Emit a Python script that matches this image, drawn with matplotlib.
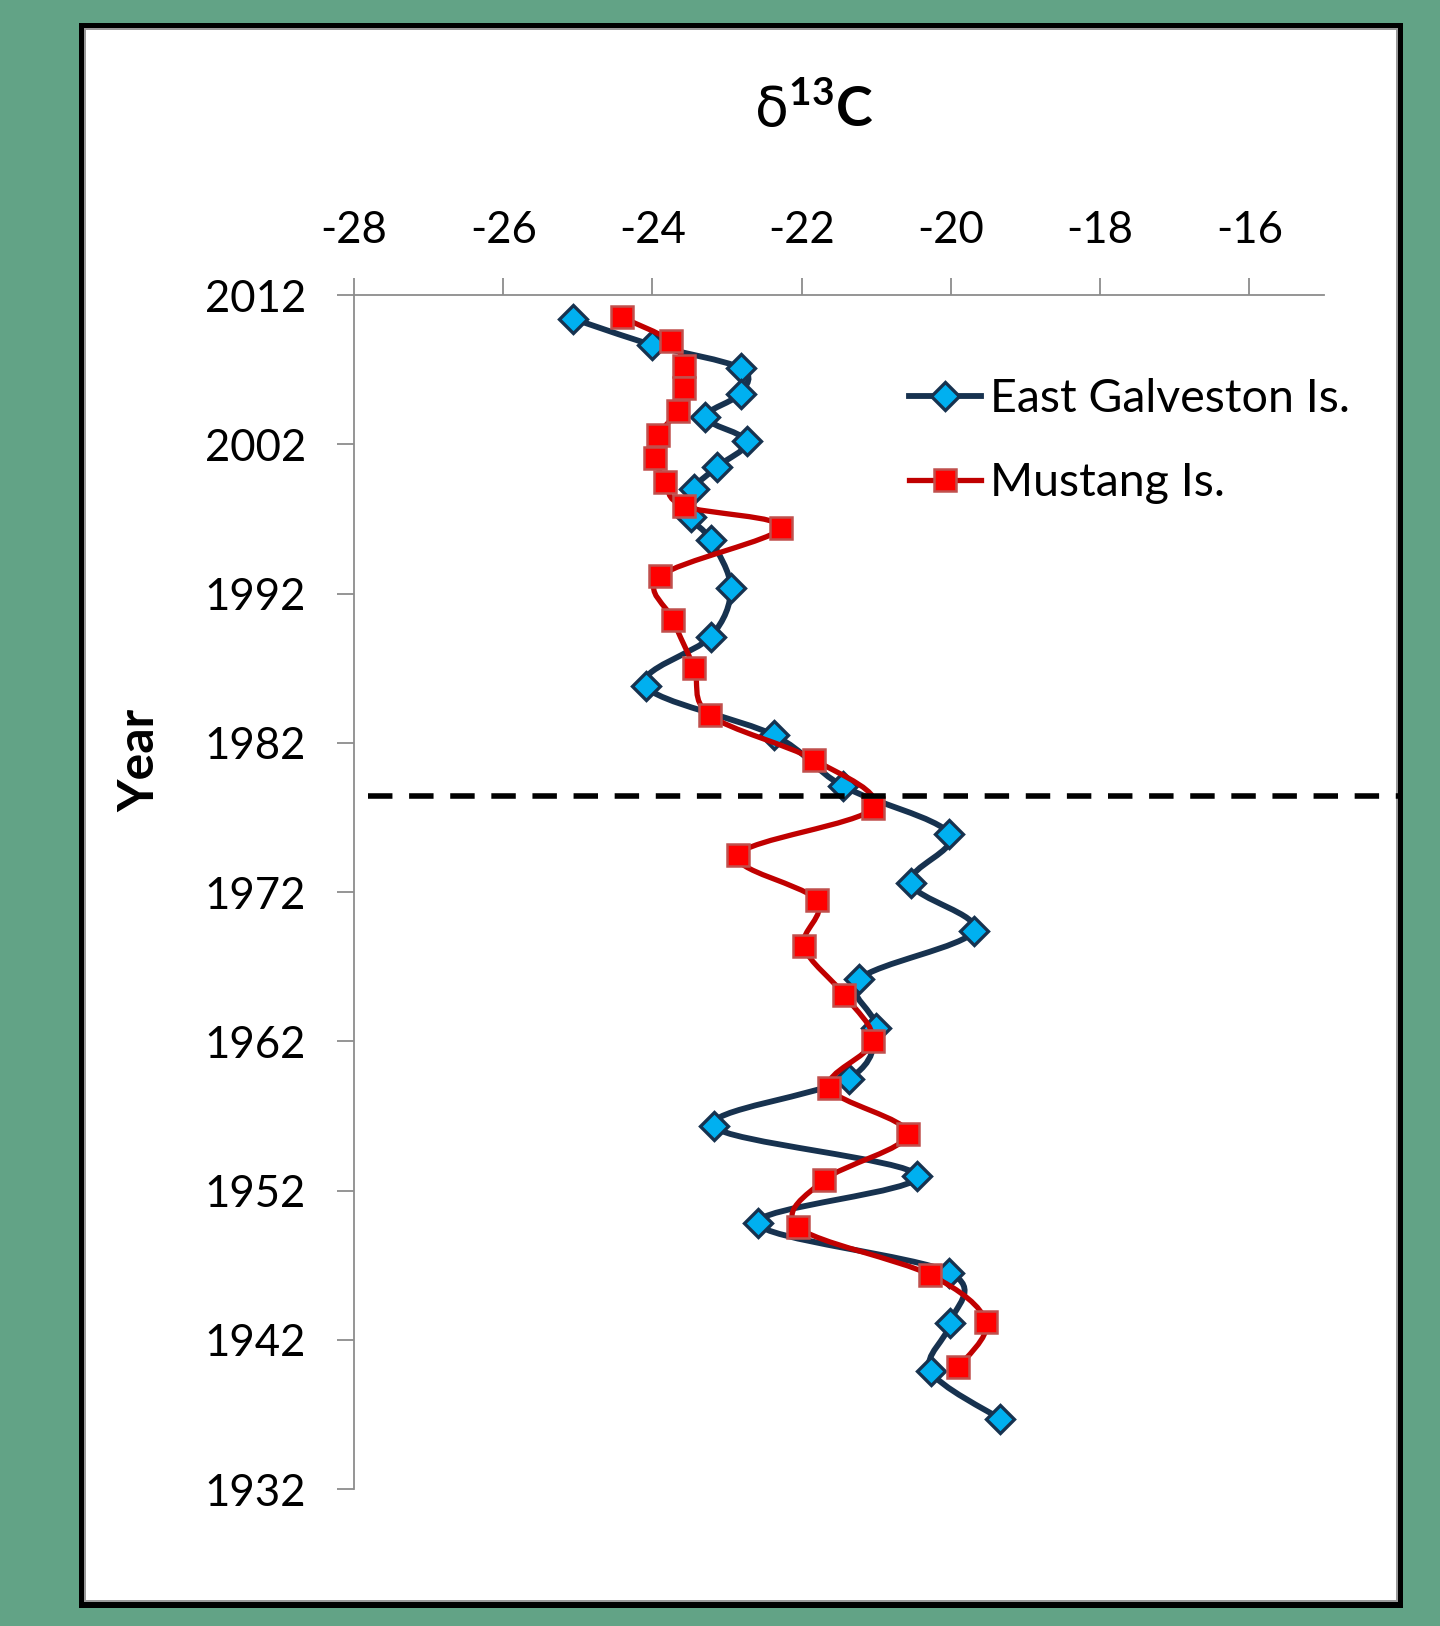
import numpy as np
import matplotlib
matplotlib.use("Agg")
import matplotlib.pyplot as plt
from matplotlib.path import Path
from matplotlib.patches import PathPatch, Rectangle
from matplotlib.lines import Line2D

plt.rcParams['font.family'] = ['Lato', 'DejaVu Sans']
plt.rcParams['mathtext.fontset'] = 'custom'
plt.rcParams['mathtext.rm'] = 'DejaVu Sans'
plt.rcParams['mathtext.bf'] = 'Lato:bold'
plt.rcParams['axes.unicode_minus'] = False

# East Galveston Is. (d13C, year)
eg_d13c = [-25.06, -24.00, -22.82, -22.82, -23.29, -22.73, -23.13, -23.45, -23.49, -23.22,
           -22.95, -23.22, -24.09, -22.37, -21.45, -20.02, -20.54, -19.69, -21.23, -21.01,
           -21.37, -23.18, -20.45, -22.59, -20.02, -20.01, -20.27, -19.34]
eg_year = [2010.4, 2008.65, 2007.1, 2005.4, 2003.8, 2002.2, 2000.5, 1999.0, 1997.15, 1995.6,
           1992.35, 1989.1, 1985.8, 1982.5, 1979.1, 1975.9, 1972.6, 1969.4, 1966.15, 1962.9,
           1959.5, 1956.3, 1953.0, 1949.8, 1946.5, 1943.1, 1939.9, 1936.7]

# Mustang Is.
mi_d13c = [-24.41, -23.75, -23.58, -23.58, -23.66, -23.92, -23.96, -23.83, -23.58, -22.28,
           -23.90, -23.72, -23.44, -23.23, -21.83, -21.05, -22.85, -21.80, -21.97, -21.43,
           -21.05, -21.63, -20.58, -21.70, -22.05, -20.28, -19.53, -19.90]
mi_year = [2010.5, 2008.9, 2007.25, 2005.75, 2004.25, 2002.6, 2001.05, 1999.5, 1997.85, 1996.4,
           1993.15, 1990.2, 1987.0, 1983.85, 1980.85, 1977.6, 1974.5, 1971.45, 1968.35, 1965.1,
           1962.0, 1958.9, 1955.8, 1952.7, 1949.55, 1946.35, 1943.2, 1940.15]

boundary_year = 1978.4
xticks = [-28, -26, -24, -22, -20, -18, -16]
yticks = [1932, 1942, 1952, 1962, 1972, 1982, 1992, 2002, 2012]

navy = '#17324f'
cyan = '#00b0f0'
red_line = '#c00000'
red_face = '#ff0000'
red_edge = '#c0504d'


def smooth_path(x, y):
    # Excel-style smoothed line: cubic Bezier through the points
    pts = np.column_stack([x, y])
    n = len(pts)
    verts = [pts[0]]
    codes = [Path.MOVETO]
    for i in range(n - 1):
        p0 = pts[i - 1] if i > 0 else pts[i]
        p1, p2 = pts[i], pts[i + 1]
        p3 = pts[i + 2] if i + 2 < n else pts[i + 1]
        verts += [p1 + (p2 - p0) / 6, p2 - (p3 - p1) / 6, p2]
        codes += [Path.CURVE4] * 3
    return Path(verts, codes)


W, H = 1440, 1626
fig = plt.figure(figsize=(W / 100, H / 100), dpi=100, facecolor='#62a386')

# framed white panel
def px_rect(x0, y0, x1, y1, color):
    fig.add_artist(Rectangle((x0 / W, 1 - y1 / H), (x1 - x0) / W, (y1 - y0) / H,
                             transform=fig.transFigure, facecolor=color, edgecolor='none', zorder=0))

px_rect(79, 23, 1403, 1608, 'black')
px_rect(84, 28, 1398, 1602, '#9a9a9a')
px_rect(86, 30, 1396, 1600, 'white')

ax = fig.add_axes([354 / W, 1 - 1489 / H, 970 / W, 1194 / H])
ax.set_facecolor('none')
ax.set_xlim(-28, -15)
ax.set_ylim(1932, 2012)
ax.xaxis.tick_top()
ax.set_xticks(xticks)
ax.set_yticks(yticks)
for s in ['right', 'bottom']:
    ax.spines[s].set_visible(False)
for s in ['top', 'left']:
    ax.spines[s].set_color('#8c8c8c')
    ax.spines[s].set_linewidth(1.3)
ax.tick_params(axis='both', direction='out', length=12.5, width=1.3, color='#8c8c8c',
               labelsize=31.5, labelcolor='black')
ax.tick_params(axis='x', pad=19)
ax.tick_params(axis='y', pad=22)

ax.add_patch(PathPatch(smooth_path(eg_d13c, eg_year), facecolor='none', edgecolor=navy,
                       lw=4.2, zorder=2))
ax.plot(eg_d13c, eg_year, linestyle='none', marker='D', markersize=14.5, markerfacecolor=cyan,
        markeredgecolor=navy, markeredgewidth=2.4, zorder=3)
ax.add_patch(PathPatch(smooth_path(mi_d13c, mi_year), facecolor='none', edgecolor=red_line,
                       lw=3.8, zorder=4))
ax.plot(mi_d13c, mi_year, linestyle='none', marker='s', markersize=16, markerfacecolor=red_face,
        markeredgecolor=red_edge, markeredgewidth=1.8, zorder=5)

ax.plot([14 / 970, 1046 / 970], [boundary_year, boundary_year], transform=ax.get_yaxis_transform(),
        color='black', lw=4.0, linestyle=(0, (4.4, 3.0)), clip_on=False, zorder=6)

handles = [
    Line2D([], [], color=navy, lw=4.2, marker='D', markersize=14.5, markerfacecolor=cyan,
           markeredgecolor=navy, markeredgewidth=2.4),
    Line2D([], [], color=red_line, lw=3.8, marker='s', markersize=16, markerfacecolor=red_face,
           markeredgecolor=red_edge, markeredgewidth=1.8),
]
fig.legend(handles, ['East Galveston Is.', 'Mustang Is.'], loc='upper left',
           bbox_to_anchor=(909 / W, 1 - 378 / H), frameon=False, fontsize=33.5,
           handlelength=1.54, handletextpad=0.2, labelspacing=0.9, borderpad=0, borderaxespad=0)

fig.text(814 / W, 1 - 109 / H, r'$\mathrm{δ}^{\mathbf{13}}\mathbf{C}$', fontsize=40,
         ha='center', va='center')
fig.text(140 / W, 1 - 760 / H, 'Year', fontsize=36, fontweight='bold', rotation=90,
         ha='center', va='center')

fig.savefig('out.png', dpi=100, facecolor=fig.get_facecolor())
